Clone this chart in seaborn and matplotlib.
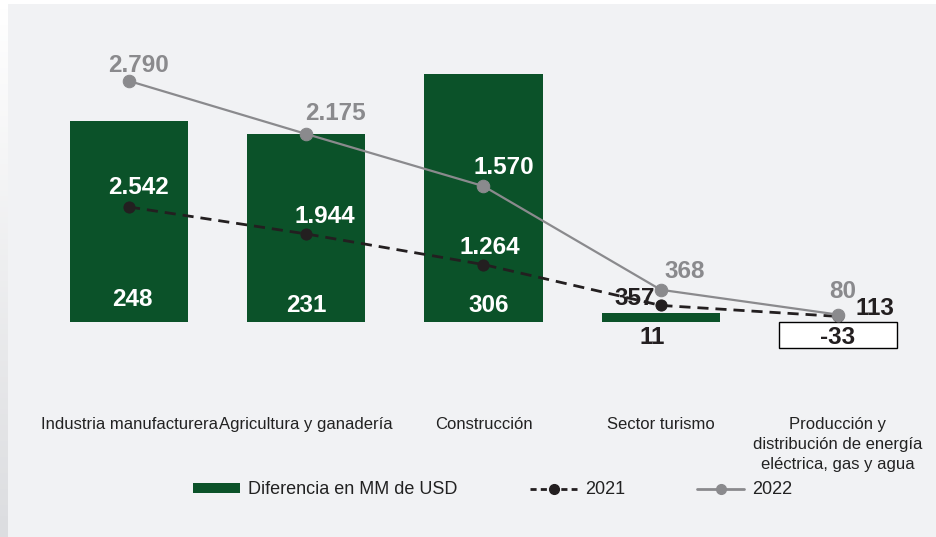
import matplotlib
matplotlib.use("Agg")
import matplotlib.pyplot as plt
from matplotlib.patches import Patch, Rectangle
from matplotlib.lines import Line2D
import numpy as np
import seaborn as sns
import pandas as pd

# Data
categories = [
    "Industria manufacturera",
    "Agricultura y ganadería",
    "Construcción",
    "Sector turismo",
    "Producción y\ndistribución de energía\neléctrica, gas y agua",
]
diferencia = [248, 231, 306, 11, -33]
valores_2021 = [2542, 1944, 1264, 357, 113]
valores_2022 = [2790, 2175, 1570, 368, 80]

GREEN = "#0b5229"
GRAY = "#8a8a8d"
DARK = "#231f20"
BG = "#f1f2f4"

sns.set_theme(style="white")
plt.rcParams["font.family"] = ["Liberation Sans", "DejaVu Sans"]

W, H = 937, 537
fig = plt.figure(figsize=(W / 100, H / 100), dpi=100, facecolor=BG)

# panel frame: white top edge and a soft shaded left edge
fig.add_artist(Rectangle((0, 1 - 4 / H), 1, 4 / H, transform=fig.transFigure,
                         facecolor="white", edgecolor="none", zorder=0))
edge = fig.add_axes([0, 0, 8 / W, 1 - 4 / H])
shade = np.linspace(0, 1, 100).reshape(-1, 1)
edge.imshow(shade, aspect="auto", cmap=matplotlib.colors.LinearSegmentedColormap.from_list(
    "edge", ["#dcdde0", "#ffffff"]), origin="lower", extent=(0, 1, 0, 1))
edge.set_axis_off()

left, right = 40.4, 926.6
top, bottom = 40, 400
zero_px = 321.5
rect = [left / W, 1 - bottom / H, (right - left) / W, (bottom - top) / H]

ax = fig.add_axes(rect)
ax2 = ax.twinx()
ax3 = ax.twinx()

pos = list(range(len(categories)))
df = pd.DataFrame({"pos": pos, "cat": categories, "dif": diferencia,
                   "y2021": valores_2021, "y2022": valores_2022})

# Bars: difference in MM USD
sns.barplot(data=df, x="pos", y="dif", ax=ax, color=GREEN, width=0.666,
            saturation=1, native_scale=True, errorbar=None)
for p, v in zip(ax.patches, diferencia):
    if v < 0:
        p.set_facecolor("white")
        p.set_edgecolor("black")
        p.set_linewidth(1.0)
    else:
        p.set_facecolor(GREEN)
        p.set_edgecolor("none")

# Lines
sns.lineplot(data=df, x="pos", y="y2021", ax=ax2, color=DARK, linestyle=(0, (4, 2.5)),
             linewidth=2.0, marker="o", markersize=8, markeredgecolor=DARK)
sns.lineplot(data=df, x="pos", y="y2022", ax=ax3, color=GRAY, linewidth=1.6,
             marker="o", markersize=9, markeredgecolor=GRAY)

# Scales share the zero line
below = bottom - zero_px
above = zero_px - top
for a, upp in ((ax, 1 / 0.81), (ax2, 22.2), (ax3, 11.6)):
    a.set_ylim(-below * upp, above * upp)
    a.set_yticks([])
    a.set_ylabel("")
    a.set_xlabel("")
    a.set_facecolor("none")
    for s in a.spines.values():
        s.set_visible(False)
    a.set_xlim(-0.5, len(categories) - 0.5)

ax.set_xticks(pos)
ax.set_xticklabels(categories, fontsize=12, color="#222222", linespacing=1.42)
ax.tick_params(axis="x", length=0, pad=12)
ax2.tick_params(axis="x", length=0)
ax3.tick_params(axis="x", length=0)


def fmt(v):
    return f"{v:,}".replace(",", ".")


FS = 17.5
PX = 72 / 100  # pixel to point

# labels of the bars, placed relative to the zero line
bar_off = [(3, 21.5), (0, 16.5), (5, 16.5), (-9, -16.5), (0, -15.5)]
bar_col = ["white", "white", "white", DARK, DARK]
for i, (v, off, c) in enumerate(zip(diferencia, bar_off, bar_col)):
    ax.annotate(fmt(v), (i, 0), xytext=(off[0] * PX, off[1] * PX), textcoords="offset points",
                ha="center", va="center", fontsize=FS, fontweight="bold", color=c, zorder=5)

off21 = [(9, 19), (19, 17), (6, 17), (-26, 7), (37, 8)]
col21 = ["white", "white", "white", DARK, DARK]
for i, (v, off, c) in enumerate(zip(valores_2021, off21, col21)):
    ax2.annotate(fmt(v), (i, v), xytext=(off[0] * PX, off[1] * PX), textcoords="offset points",
                 ha="center", va="center", fontsize=FS, fontweight="bold", color=c, zorder=5)

off22 = [(9, 15), (29, 20), (20, 19), (24, 18), (5, 23)]
col22 = [GRAY, GRAY, "white", GRAY, GRAY]
for i, (v, off, c) in enumerate(zip(valores_2022, off22, col22)):
    ax3.annotate(fmt(v), (i, v), xytext=(off[0] * PX, off[1] * PX), textcoords="offset points",
                 ha="center", va="center", fontsize=FS, fontweight="bold", color=c, zorder=5)

handles = [
    Patch(facecolor=GREEN, edgecolor="none"),
    Line2D([], [], color=DARK, linestyle=(0, (2.2, 1.5)), linewidth=2.0, marker="o",
           markersize=7, markeredgecolor=DARK),
    Line2D([], [], color=GRAY, linewidth=2.0, marker="o", markersize=7, markeredgecolor=GRAY),
]
labels = ["Diferencia en MM de USD", "2021", "2022"]
fig.legend(handles, labels, loc="center", bbox_to_anchor=(493 / W, 1 - 490 / H), ncol=3,
           frameon=False, fontsize=13, handlelength=2.6, handleheight=0.5,
           handletextpad=0.45, columnspacing=4.0, labelcolor="#222222")

fig.savefig("out.png", dpi=100, facecolor=BG)
